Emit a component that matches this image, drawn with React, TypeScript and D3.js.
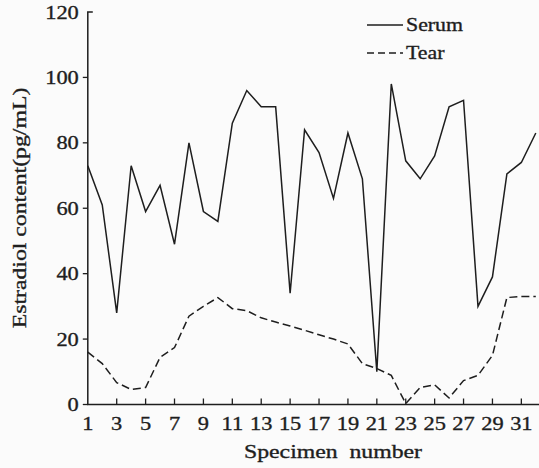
import React from 'react';
import * as d3 from 'd3';

const specimens = d3.range(1, 33);
const serum = [73, 61, 28, 73, 59, 67, 49, 80, 59, 56, 86, 96, 91, 91, 34, 84, 77, 63, 83, 69, 10, 98, 74.5, 69, 76, 91, 93, 30, 39, 70.5, 74, 83];
const tear = [16, 12.5, 6.7, 4.6, 5.2, 14.4, 17.4, 27, 30, 32.7, 29.3, 28.7, 26.5, 25.2, 24, 22.7, 21.3, 20, 18.5, 12.5, 11, 8.9, 0.3, 5.2, 6, 2, 7.3, 8.9, 15, 32.7, 33, 33];
const xTicks = d3.range(1, 32, 2);
const yTicks = [0, 20, 40, 60, 80, 100, 120];

const W = 539;
const H = 468;
const ink = '#1e1e1e';
const font = "'Liberation Serif', 'DejaVu Serif', 'Times New Roman', Times, serif";
const stretch = 1.15;

export default function App() {
  const x = d3.scaleLinear().domain([1, 32]).range([87.8, 535.8]);
  const y = d3.scaleLinear().domain([0, 120]).range([404.5, 12]);

  const line = (vals: number[]) =>
    d3.line<number>()
      .x((_, i) => x(specimens[i]))
      .y((d) => y(d))(vals) || '';

  const x0 = x(1);
  const y0 = y(0);

  return (
    <svg width={W} height={H}
      style={{ position: 'absolute', left: 0, top: 0, background: '#fbfbfb', fontFamily: font }}>
      {/* axes */}
      <path d={`M${x0 + 5},${y(120)}H${x0}V${y0}H${W}`} fill="none" stroke={ink} strokeWidth={1.5} />
      {/* text gets a thin stroke so it reads as heavy as the scanned original */}
      <g fill={ink} stroke={ink} strokeWidth={0.35}>
        {yTicks.map((t) => (
          <g key={t} transform={`translate(0,${y(t)})`}>
            {t < 120 && <line x1={x0 - 5} x2={x0} strokeWidth={1.3} />}
            <text transform={`translate(${x0 - 9},6.5) scale(${stretch},1)`} textAnchor="end" fontSize={19.5}>{t}</text>
          </g>
        ))}
        {xTicks.map((t) => (
          <g key={t} transform={`translate(${x(t)},0)`}>
            {t > 1 && <line y1={y0} y2={y0 - 6} strokeWidth={1.3} />}
            <text transform={`translate(0,${y0 + 25.5}) scale(${stretch},1)`} textAnchor="middle" fontSize={19.5}>{t}</text>
          </g>
        ))}
        <text transform={`translate(333,458) scale(1.25,1)`} textAnchor="middle" fontSize={19} style={{ whiteSpace: 'pre' }}>Specimen  number</text>
        <text transform={`translate(26,208) rotate(-90) scale(1.25,1)`} textAnchor="middle" fontSize={19}>Estradiol content(pg/mL)</text>
        <text transform="translate(406,31) scale(1.15,1)" fontSize={19}>Serum</text>
        <text transform="translate(406,59) scale(1.15,1)" fontSize={19}>Tear</text>
      </g>
      {/* lines */}
      <path d={line(serum)} fill="none" stroke={ink} strokeWidth={1.5} strokeLinejoin="miter" />
      <path d={line(tear)} fill="none" stroke={ink} strokeWidth={1.5} strokeDasharray="8,4" />
      {/* legend keys */}
      <line x1={367} x2={403} y1={25} y2={25} stroke={ink} strokeWidth={1.5} />
      <line x1={367} x2={403} y1={53} y2={53} stroke={ink} strokeWidth={1.5} strokeDasharray="7,4" />
    </svg>
  );
}
